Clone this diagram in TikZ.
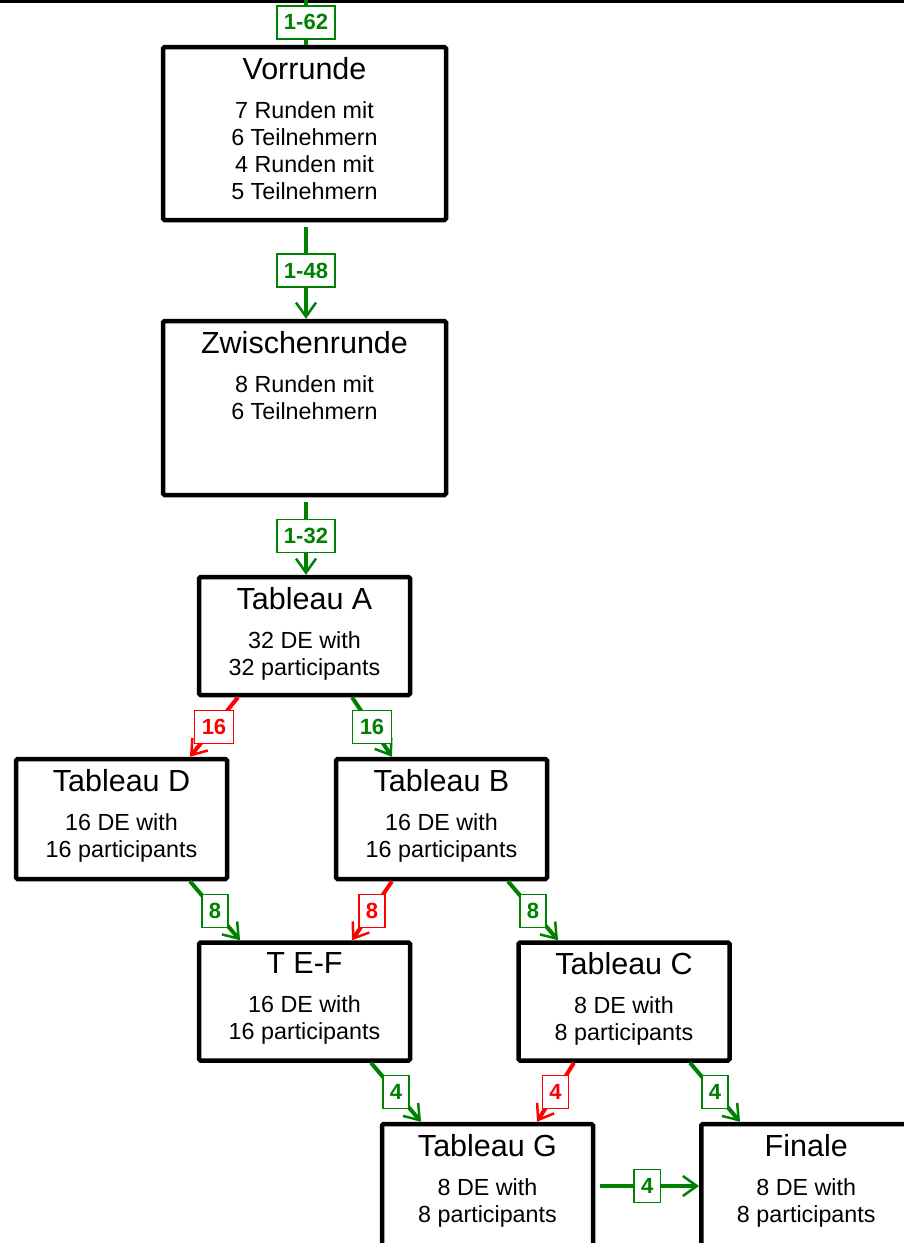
\documentclass[tikz,border=0pt]{standalone}
\usepackage{fontspec}
\setmainfont{Liberation Sans}
\usepackage{tikz}
\usetikzlibrary{arrows.meta}
\definecolor{grn}{RGB}{0,128,0}

\begin{document}
\begin{tikzpicture}[x=1pt, y=-1pt,
  stage/.style={draw, line width=4.5pt, rounded corners=1.5pt, minimum width=211pt, minimum height=118pt},
  stagetext/.style={anchor=north, align=center, inner sep=0pt, yshift=-12pt, font=\fontsize{23.3}{27}\selectfont},
  win/.style={draw=grn, line width=4pt, -{Straight Barb[length=14pt,width=20pt,line width=2.5pt]}},
  lose/.style={win, draw=red},
  winlbl/.style={draw=grn, text=grn, fill=white, line width=1.3pt, font=\bfseries\fontsize{22}{22}\selectfont, inner xsep=7pt, inner ysep=0pt, minimum height=33pt},
  loselbl/.style={winlbl, draw=red, text=red}]
\useasboundingbox (0,0) rectangle (904,1243);

\coordinate (topleft) at (0,0);
\coordinate (topright) at (904,0);
\draw[line width=6pt] (topleft) -- (topright);

% rounds
\node[stage, minimum width=283pt, minimum height=173pt] (vorrunde) at (304.5,133.5) {};
\node[stage, minimum width=283pt, minimum height=174pt] (zwischen) at (304.5,408) {};
\node[stage] (tabA) at (304.5,636) {};
\node[stage, minimum height=120pt] (tabD) at (121.5,819) {};
\node[stage, minimum height=120pt] (tabB) at (441.5,819) {};
\node[stage] (tabEF) at (304.5,1001.5) {};
\node[stage] (tabC) at (624,1001.5) {};
\node[stage, minimum height=140pt] (tabG) at (487.5,1194) {};
\node[stage, minimum width=240pt, minimum height=140pt] (finale) at (821.25,1194) {};

\path (vorrunde.north) node[stagetext] (vorrundeT) {{\fontsize{30.5}{30}\selectfont Vorrunde}\\[12pt]7 Runden mit\\6 Teilnehmern\\4 Runden mit\\5 Teilnehmern};
\path (zwischen.north) node[stagetext] (zwischenT) {{\fontsize{30.5}{30}\selectfont Zwischenrunde}\\[12pt]8 Runden mit\\6 Teilnehmern};
\path (tabA.north) node[stagetext] (tabAT) {{\fontsize{30.5}{30}\selectfont Tableau A}\\[12pt]32 DE with\\32 participants};
\path (tabD.north) node[stagetext] (tabDT) {{\fontsize{30.5}{30}\selectfont Tableau D}\\[12pt]16 DE with\\16 participants};
\path (tabB.north) node[stagetext] (tabBT) {{\fontsize{30.5}{30}\selectfont Tableau B}\\[12pt]16 DE with\\16 participants};
\path (tabEF.north) node[stagetext] (tabEFT) {{\fontsize{30.5}{30}\selectfont T E-F}\\[12pt]16 DE with\\16 participants};
\path (tabC.north) node[stagetext] (tabCT) {{\fontsize{30.5}{30}\selectfont Tableau C}\\[12pt]8 DE with\\8 participants};
\path (tabG.north) node[stagetext] (tabGT) {{\fontsize{30.5}{30}\selectfont Tableau G}\\[12pt]8 DE with\\8 participants};
\path ([xshift=-15pt]finale.north) node[stagetext] (finaleT) {{\fontsize{30.5}{30}\selectfont Finale}\\[12pt]8 DE with\\8 participants};

% qualified
\coordinate (entry) at (306,0);
\draw[win, -] (entry) -- node[winlbl] {1-62} (vorrunde.north -| entry);
\draw[win, shorten <=5pt] (vorrunde.south -| entry) -- node[winlbl] {1-48} (zwischen.north -| entry);
\draw[win, shorten <=5pt] (zwischen.south -| entry) -- node[winlbl] {1-32} (tabA.north -| entry);
\draw[lose] ([xshift=-66.5pt]tabA.south) -- node[loselbl] {16} ([xshift=68.5pt]tabD.north);
\draw[win] ([xshift=47.5pt]tabA.south) -- node[winlbl] {16} ([xshift=-49.5pt]tabB.north);
\draw[win] ([xshift=68.5pt]tabD.south) -- node[winlbl] {8} ([xshift=-64.5pt]tabEF.north);
\draw[lose] ([xshift=-49.5pt]tabB.south) -- node[loselbl] {8} ([xshift=47.5pt]tabEF.north);
\draw[win] ([xshift=66.5pt]tabB.south) -- node[winlbl] {8} ([xshift=-66pt]tabC.north);
\draw[win] ([xshift=66.5pt]tabEF.south) -- node[winlbl] {4} ([xshift=-66.5pt]tabG.north);
\draw[lose] ([xshift=-50pt]tabC.south) -- node[loselbl] {4} ([xshift=49.5pt]tabG.north);
\draw[win] ([xshift=66pt]tabC.south) -- node[winlbl] {4} ([xshift=-81.25pt]finale.north);
\draw[win, shorten <=5pt] ([yshift=8pt]tabG.east) -- node[winlbl] {4} ([yshift=8pt]finale.west);
\end{tikzpicture}
\end{document}
